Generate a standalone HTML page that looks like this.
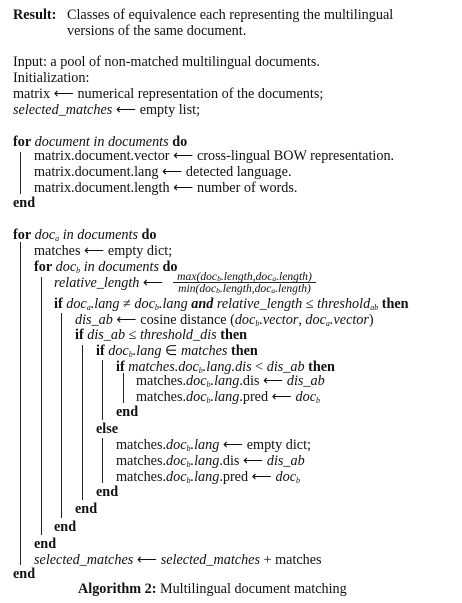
<!DOCTYPE html>
<html><head><meta charset="utf-8"><style>
html,body{margin:0;padding:0;background:#fff;}
body{width:462px;height:603px;position:relative;overflow:hidden;font-family:"Liberation Serif",serif;font-size:14.2px;color:#111;}
.l{position:absolute;white-space:nowrap;line-height:16px;}
b{font-weight:bold;}
i{font-style:italic;}
sub{font-size:8px;vertical-align:-2px;line-height:0;}
.bar{position:absolute;width:1.3px;background:#222;}
.fr{position:absolute;font-style:italic;font-size:11.6px;line-height:10px;text-align:center;white-space:nowrap;}
.fr sub{font-size:7.5px;vertical-align:-1px;}
</style></head><body>
<div class="l" style="left:13px;top:7px"><b>Result:</b></div>
<div class="l" style="left:67px;top:7px">Classes of equivalence each representing the multilingual</div>
<div class="l" style="left:67px;top:23px">versions of the same document.</div>
<div class="l" style="left:13px;top:54px">Input: a pool of non-matched multilingual documents.</div>
<div class="l" style="left:13px;top:70px">Initialization:</div>
<div class="l" style="left:13px;top:86px">matrix ⟵ numerical representation of the documents;</div>
<div class="l" style="left:13px;top:102px"><i>selected_matches</i> ⟵ empty list;</div>
<div class="l" style="left:13px;top:134px"><b>for</b> <i>document in documents</i> <b>do</b></div>
<div class="l" style="left:34px;top:148px">matrix.document.vector ⟵ cross-lingual BOW representation.</div>
<div class="l" style="left:34px;top:164px">matrix.document.lang ⟵ detected language.</div>
<div class="l" style="left:34px;top:180px">matrix.document.length ⟵ number of words.</div>
<div class="l" style="left:13px;top:195px"><b>end</b></div>
<div class="bar" style="left:20px;top:152px;height:42px"></div>

<div class="l" style="left:13px;top:227px"><b>for</b> <i>doc<sub>a</sub> in documents</i> <b>do</b></div>
<div class="l" style="left:34px;top:243px">matches ⟵ empty dict;</div>
<div class="l" style="left:34px;top:259px"><b>for</b> <i>doc<sub>b</sub> in documents</i> <b>do</b></div>
<div class="l" style="left:54px;top:275px"><i>relative_length</i> ⟵</div>
<div class="fr" style="left:173px;top:272px;width:143px;border-bottom:1px solid #222">max(doc<sub>b</sub>.length,doc<sub>a</sub>.length)</div>
<div class="fr" style="left:173px;top:284px;width:143px">min(doc<sub>b</sub>.length,doc<sub>a</sub>.length)</div>
<div class="l" style="left:54px;top:296px"><b>if</b> <i>doc<sub>a</sub>.lang</i> ≠ <i>doc<sub>b</sub>.lang</i> <b><i>and</i></b> <i>relative_length</i> ≤ <i>threshold<sub>ab</sub></i> <b>then</b></div>
<div class="l" style="left:75px;top:312px"><i>dis_ab</i> ⟵ cosine distance (<i>doc<sub>b</sub>.vector</i>, <i>doc<sub>a</sub>.vector</i>)</div>
<div class="l" style="left:75px;top:327px"><b>if</b> <i>dis_ab</i> ≤ <i>threshold_dis</i> <b>then</b></div>
<div class="l" style="left:96px;top:343px"><b>if</b> <i>doc<sub>b</sub>.lang</i> ∈ <i>matches</i> <b>then</b></div>
<div class="l" style="left:116px;top:359px"><b>if</b> <i>matches.doc<sub>b</sub>.lang.dis</i> &lt; <i>dis_ab</i> <b>then</b></div>
<div class="l" style="left:136px;top:373px">matches.<i>doc<sub>b</sub>.lang</i>.dis ⟵ <i>dis_ab</i></div>
<div class="l" style="left:136px;top:389px">matches.<i>doc<sub>b</sub>.lang</i>.pred ⟵ <i>doc<sub>b</sub></i></div>
<div class="l" style="left:116px;top:404px"><b>end</b></div>
<div class="l" style="left:96px;top:421px"><b>else</b></div>
<div class="l" style="left:116px;top:437px">matches.<i>doc<sub>b</sub>.lang</i> ⟵ empty dict;</div>
<div class="l" style="left:116px;top:453px">matches.<i>doc<sub>b</sub>.lang</i>.dis ⟵ <i>dis_ab</i></div>
<div class="l" style="left:116px;top:469px">matches.<i>doc<sub>b</sub>.lang</i>.pred ⟵ <i>doc<sub>b</sub></i></div>
<div class="l" style="left:96px;top:484px"><b>end</b></div>
<div class="l" style="left:75px;top:501px"><b>end</b></div>
<div class="l" style="left:54px;top:519px"><b>end</b></div>
<div class="l" style="left:34px;top:536px"><b>end</b></div>
<div class="l" style="left:34px;top:552px"><i>selected_matches</i> ⟵ <i>selected_matches</i> + matches</div>
<div class="l" style="left:13px;top:566px"><b>end</b></div>
<div class="l" style="left:78px;top:581px"><b>Algorithm 2:</b> Multilingual document matching</div>

<div class="bar" style="left:20px;top:242px;height:323px"></div>
<div class="bar" style="left:41px;top:277px;height:258px"></div>
<div class="bar" style="left:61px;top:313px;height:205px"></div>
<div class="bar" style="left:82px;top:345px;height:155px"></div>
<div class="bar" style="left:102px;top:360px;height:60px"></div>
<div class="bar" style="left:102px;top:438px;height:45px"></div>
<div class="bar" style="left:123px;top:373px;height:30px"></div>
</body></html>
